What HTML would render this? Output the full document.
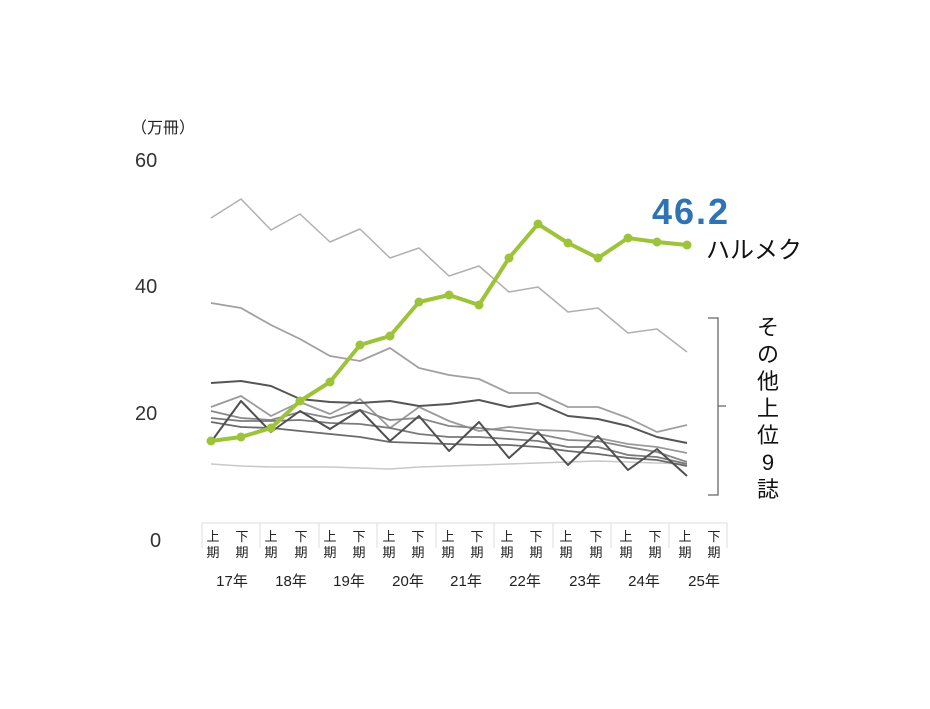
<!DOCTYPE html>
<html><head><meta charset="utf-8"><style>
html,body{margin:0;padding:0;background:#fff;}
body{width:930px;height:704px;overflow:hidden;}
</style></head><body>
<svg width="930" height="704" viewBox="0 0 930 704" xmlns="http://www.w3.org/2000/svg" font-family="Liberation Sans, Noto Sans CJK JP, sans-serif">
<text x="131" y="133" font-size="16" fill="#222">（万冊）</text>
<g font-size="20" fill="#333">
<text x="135" y="167">60</text>
<text x="135" y="293">40</text>
<text x="135" y="420">20</text>
<text x="150" y="547">0</text>
</g>
<g stroke="#ddd" stroke-width="1" fill="none">
<line x1="202" y1="523" x2="727" y2="523"/>
<line x1="202" y1="523" x2="202" y2="548"/><line x1="260" y1="523" x2="260" y2="548"/>
<line x1="319" y1="523" x2="319" y2="548"/><line x1="377" y1="523" x2="377" y2="548"/>
<line x1="436" y1="523" x2="436" y2="548"/><line x1="494" y1="523" x2="494" y2="548"/>
<line x1="553" y1="523" x2="553" y2="548"/><line x1="611" y1="523" x2="611" y2="548"/>
<line x1="669" y1="523" x2="669" y2="548"/><line x1="727" y1="523" x2="727" y2="548"/>
</g>
<g font-size="13" fill="#222" text-anchor="middle">
<text x="213" y="541">上</text><text x="213" y="557">期</text>
<text x="242" y="541">下</text><text x="242" y="557">期</text>
<text x="271" y="541">上</text><text x="271" y="557">期</text>
<text x="301" y="541">下</text><text x="301" y="557">期</text>
<text x="330" y="541">上</text><text x="330" y="557">期</text>
<text x="359" y="541">下</text><text x="359" y="557">期</text>
<text x="389" y="541">上</text><text x="389" y="557">期</text>
<text x="418" y="541">下</text><text x="418" y="557">期</text>
<text x="448" y="541">上</text><text x="448" y="557">期</text>
<text x="477" y="541">下</text><text x="477" y="557">期</text>
<text x="507" y="541">上</text><text x="507" y="557">期</text>
<text x="536" y="541">下</text><text x="536" y="557">期</text>
<text x="566" y="541">上</text><text x="566" y="557">期</text>
<text x="596" y="541">下</text><text x="596" y="557">期</text>
<text x="626" y="541">上</text><text x="626" y="557">期</text>
<text x="655" y="541">下</text><text x="655" y="557">期</text>
<text x="685" y="541">上</text><text x="685" y="557">期</text>
<text x="714" y="541">下</text><text x="714" y="557">期</text>
</g>
<g font-size="15" fill="#222" text-anchor="middle">
<text x="232" y="586">17年</text><text x="291" y="586">18年</text><text x="349" y="586">19年</text>
<text x="408" y="586">20年</text><text x="466" y="586">21年</text><text x="525" y="586">22年</text>
<text x="585" y="586">23年</text><text x="644" y="586">24年</text><text x="704" y="586">25年</text>
</g>
<g fill="none" stroke-linejoin="round">
<polyline stroke="#c8c8c8" stroke-width="1.5" points="211,464 241,466 271,467 300,467 330,467 360,468 390,469 419,467 449,466 479,465 509,464 538,463 568,462 598,461 628,462 657,463 687,464"/>
<polyline stroke="#b0b0b0" stroke-width="1.5" points="211,218 241,199 271,230 300,214 330,242 360,229 390,258 419,248 449,276 479,266 509,292 538,287 568,312 598,308 628,333 657,329 687,352"/>
<polyline stroke="#a0a0a0" stroke-width="1.8" points="211,303 241,308 271,325 300,339 330,356 360,361 390,348 419,368 449,375 479,379 509,393 538,393 568,407 598,407 628,418 657,432 687,425"/>
<polyline stroke="#9a9a9a" stroke-width="1.8" points="211,407 241,396 271,416 300,402 330,414 360,399 390,428 419,407 449,421 479,431 509,427 538,430 568,431 598,438 628,444 657,447 687,453"/>
<polyline stroke="#888" stroke-width="1.8" points="211,411 241,418 271,420 300,412 330,418 360,410 390,420 419,418 449,426 479,428 509,431 538,434 568,440 598,441 628,447 657,452 687,462"/>
<polyline stroke="#7a7a7a" stroke-width="1.8" points="211,418 241,421 271,421 300,420 330,423 360,424 390,428 419,434 449,437 479,437 509,439 538,441 568,447 598,447 628,455 657,457 687,464"/>
<polyline stroke="#6a6a6a" stroke-width="1.8" points="211,422 241,427 271,428 300,431 330,434 360,437 390,442 419,443 449,444 479,445 509,445 538,447 568,451 598,454 628,458 657,460 687,466"/>
<polyline stroke="#555" stroke-width="2" points="211,383 241,381 271,386 300,399 330,402 360,403 390,401 419,406 449,404 479,400 509,407 538,403 568,416 598,419 628,426 657,437 687,443"/>
<polyline stroke="#505050" stroke-width="2" points="211,442 241,401 271,432 300,411 330,429 360,410 390,441 419,416 449,451 479,422 509,458 538,432 568,465 598,436 628,470 657,449 687,476"/>
<polyline stroke="#9dc33b" stroke-width="4" points="211,441 241,437 271,428 300,401 330,382 360,345 390,336 419,302 449,295 479,305 509,258 538,224 568,243 598,258 628,238 657,242 687,245"/>
</g>
<g fill="#9dc33b">
<circle cx="211" cy="441" r="4.5"/><circle cx="241" cy="437" r="4.5"/><circle cx="271" cy="428" r="4.5"/><circle cx="300" cy="401" r="4.5"/><circle cx="330" cy="382" r="4.5"/><circle cx="360" cy="345" r="4.5"/><circle cx="390" cy="336" r="4.5"/><circle cx="419" cy="302" r="4.5"/><circle cx="449" cy="295" r="4.5"/><circle cx="479" cy="305" r="4.5"/><circle cx="509" cy="258" r="4.5"/><circle cx="538" cy="224" r="4.5"/><circle cx="568" cy="243" r="4.5"/><circle cx="598" cy="258" r="4.5"/><circle cx="628" cy="238" r="4.5"/><circle cx="657" cy="242" r="4.5"/><circle cx="687" cy="245" r="4.5"/>
</g>
<path d="M708 318 H718 V495 H708 M718 406 H726" fill="none" stroke="#666" stroke-width="1.3"/>
<text x="652" y="224" font-size="36" font-weight="bold" fill="#2e74b5" letter-spacing="2">46.2</text>
<text x="706" y="258" font-size="24" fill="#111">ハルメク</text>
<g font-size="22" fill="#111" text-anchor="middle">
<text x="768" y="335">そ</text><text x="768" y="362">の</text><text x="768" y="389">他</text>
<text x="768" y="416">上</text><text x="768" y="443">位</text><text x="768" y="470">9</text><text x="768" y="497">誌</text>
</g>
</svg>
</body></html>
